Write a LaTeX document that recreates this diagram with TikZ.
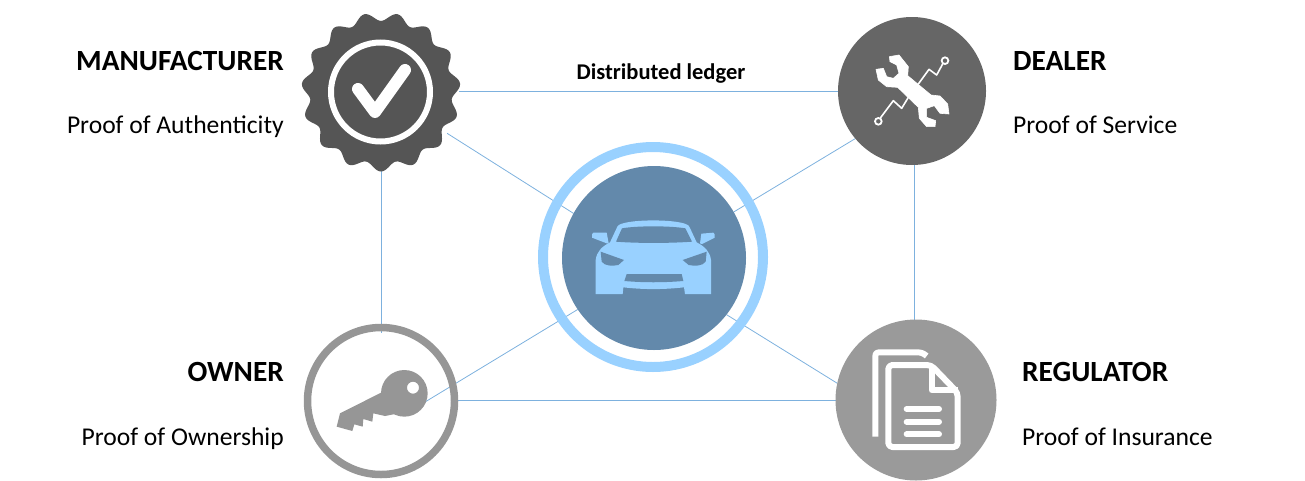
\documentclass[tikz,border=0pt]{standalone}
\usepackage{fontspec}
\setmainfont{Carlito}
\usetikzlibrary{backgrounds}
\definecolor{linkblue}{HTML}{7DB1DE}
\definecolor{badgegrey}{HTML}{555555}
\definecolor{dealgrey}{HTML}{666666}
\definecolor{keygrey}{HTML}{969696}
\definecolor{docgrey}{HTML}{9A9A9A}
\definecolor{disc}{HTML}{6389AB}
\definecolor{sky}{HTML}{99D1FF}
\tikzset{
  hub/.style={circle,inner sep=0pt,outer sep=0pt,minimum size=#1},
  link/.style={draw=linkblue,line width=0.8pt},
  head/.style={font=\fontsize{29.3}{32}\selectfont\bfseries,text=black,inner sep=0pt},
  sub/.style={font=\fontsize{25.6}{28}\selectfont,text=black,inner sep=0pt},
  zoomed/.style={x=0.33333pt,y=-0.33333pt},
}
\begin{document}
\begin{tikzpicture}[x=1pt,y=-1pt]
\path[use as bounding box] (0,0) rectangle (1305,480);

% hubs
\node[hub=156pt] (man) at (381,92) {};
\node[hub=148pt,fill=dealgrey] (deal) at (912,91) {};
\node[hub=184pt,fill=disc] (center) at (654,258) {};
\node[hub=147pt,draw=keygrey,line width=7.5pt] (own) at (381,401) {};
\node[hub=161pt,fill=docgrey] (reg) at (916,400) {};
\coordinate (ownkey) at (425,402);
\coordinate (ownin) at (381.5,333);

% manufacturer badge
\fill[badgegrey] plot[domain=0:360,samples=241,smooth cycle]
  ({381+(75.3-4.2*cos(15*\x))*sin(\x)},{92-(75.3-4.2*cos(15*\x))*cos(\x)});
\draw[white,line width=6pt] (380.5,92) circle[radius=49.5];
\draw[white,line width=12pt,line cap=round,line join=round] (358,89) -- (375,112) -- (405,70);

% centre ring
\draw[sky,line width=10pt] (653,257) circle[radius=110];

% car
\begin{scope}[shift={(530,135)},zoomed]
\fill[sky] (197,477) -- (278,477) -- (280,457) .. controls (340,464) and (400,464) .. (462,457) -- (465,477) -- (543,477) -- (543,375)
  .. controls (540,350) and (525,335) .. (500,322) -- (478,275) .. controls (470,250) and (270,250) .. (262,275) -- (240,322)
  .. controls (215,335) and (200,350) .. (197,375) -- cycle;
\fill[disc] (258,320) -- (276,280) .. controls (320,272) and (420,272) .. (466,280) -- (486,320) .. controls (420,325) and (320,325) .. (258,320) -- cycle;
\fill[disc] (212,350) -- (282,375) -- (265,390) .. controls (245,394) and (225,393) .. (215,380) -- cycle;
\fill[disc] (530,350) -- (458,375) -- (476,390) .. controls (495,394) and (518,393) .. (527,380) -- cycle;
\fill[disc] (290,417) -- (455,417) -- (460,438) .. controls (400,443) and (340,443) .. (283,438) -- cycle;
\fill[sky] (186,298) -- (190,293) -- (230,293) -- (236,325) -- (230,325) -- (186,308) -- cycle;
\fill[sky] (510,325) -- (514,296) -- (550,293) -- (554,298) -- (554,308) -- (516,327) -- cycle;
\end{scope}

% wrench
\begin{scope}[shift={(825,10)},zoomed]
\fill[white,draw=white,line width=0.6pt,line join=round] (193,140) -- (222,135) -- (250,170) -- (248,197) -- (318,255) -- (345,258) -- (368,282) -- (372,312) -- (345,310) -- (328,287)
  -- (305,295) -- (305,322) -- (332,332) -- (330,350) -- (305,350) -- (283,325) -- (280,292) -- (218,232) -- (185,230) -- (160,210) -- (153,178)
  -- (175,175) -- (185,200) -- (205,205) -- (222,190) -- (215,165) -- (195,155) -- cycle;
\draw[white,line width=1.6pt,line join=round] (166,324) -- (205,272) -- (230,295) -- (250,262);
\draw[white,line width=1.6pt,line join=round] (280,222) -- (312,178) -- (335,195) -- (354,160);
\draw[white,line width=1.8pt] (160,334) circle[radius=10];
\draw[white,line width=1.8pt] (360,152) circle[radius=10];
\end{scope}

% key
\begin{scope}[shift={(295,315)},zoomed]
\fill[keygrey,even odd rule] (328,235) circle[radius=70] (354,218) circle[radius=18];
\fill[keygrey] (268,228) -- (135,295) -- (125,335) -- (172,348) -- (178,328) -- (203,335) -- (205,312) -- (232,320) -- (235,295) -- (270,303) -- (310,295) -- cycle;
\end{scope}

% documents
\begin{scope}[shift={(825,310)},zoomed]
\draw[white,line width=6pt,line join=round] (151,380) -- (151,140) .. controls (151,130) and (155,127) .. (165,127) -- (275,127) .. controls (290,127) and (295,130) .. (305,138);
\draw[white,line width=6pt,line join=round,rounded corners=4pt] (190,165) -- (318,165) -- (398,248) -- (398,411) -- (190,411) -- cycle;
\draw[white,line width=6pt,line join=round] (320,165) -- (320,241) -- (398,241);
\draw[white,line width=6pt,line cap=round] (245,297) -- (342,297);
\draw[white,line width=6pt,line cap=round] (245,335) -- (342,335);
\draw[white,line width=6pt,line cap=round] (245,373) -- (342,373);
\end{scope}

% labels
\node[head,anchor=base east] (tman) at (284,70) {MANUFACTURER};
\node[sub,anchor=base east] (sman) at (284,133) {Proof of Authenticity};
\node[head,anchor=base east] (town) at (284,381) {OWNER};
\node[sub,anchor=base east] (sown) at (284,445) {Proof of Ownership};
\node[head,anchor=base west] (tdeal) at (1013,70) {DEALER};
\node[sub,anchor=base west] (sdeal) at (1013,133) {Proof of Service};
\node[head,anchor=base west] (treg) at (1022,381) {REGULATOR};
\node[sub,anchor=base west] (sreg) at (1022,445) {Proof of Insurance};
\node[anchor=base,inner sep=0pt,font=\fontsize{22.5}{24}\selectfont\bfseries] (ledger) at (661,79) {Distributed ledger};

% connectors
\begin{scope}[on background layer]
\draw[link] (man.east |- deal.west) -- (deal.west);
\draw[link] (own.east |- reg.west) -- (reg.west);
\draw[link] (ownin |- man.south) -- (ownin);
\draw[link] (deal.-88) -- (deal.-88 |- reg.north);
\draw[link] (man.-32) -- (center.151);
\draw[link] (deal.220) -- (center.30);
\draw[link] (ownkey) -- (center.214);
\draw[link] (reg.168) -- (center.-38);
\end{scope}
\end{tikzpicture}
\end{document}
